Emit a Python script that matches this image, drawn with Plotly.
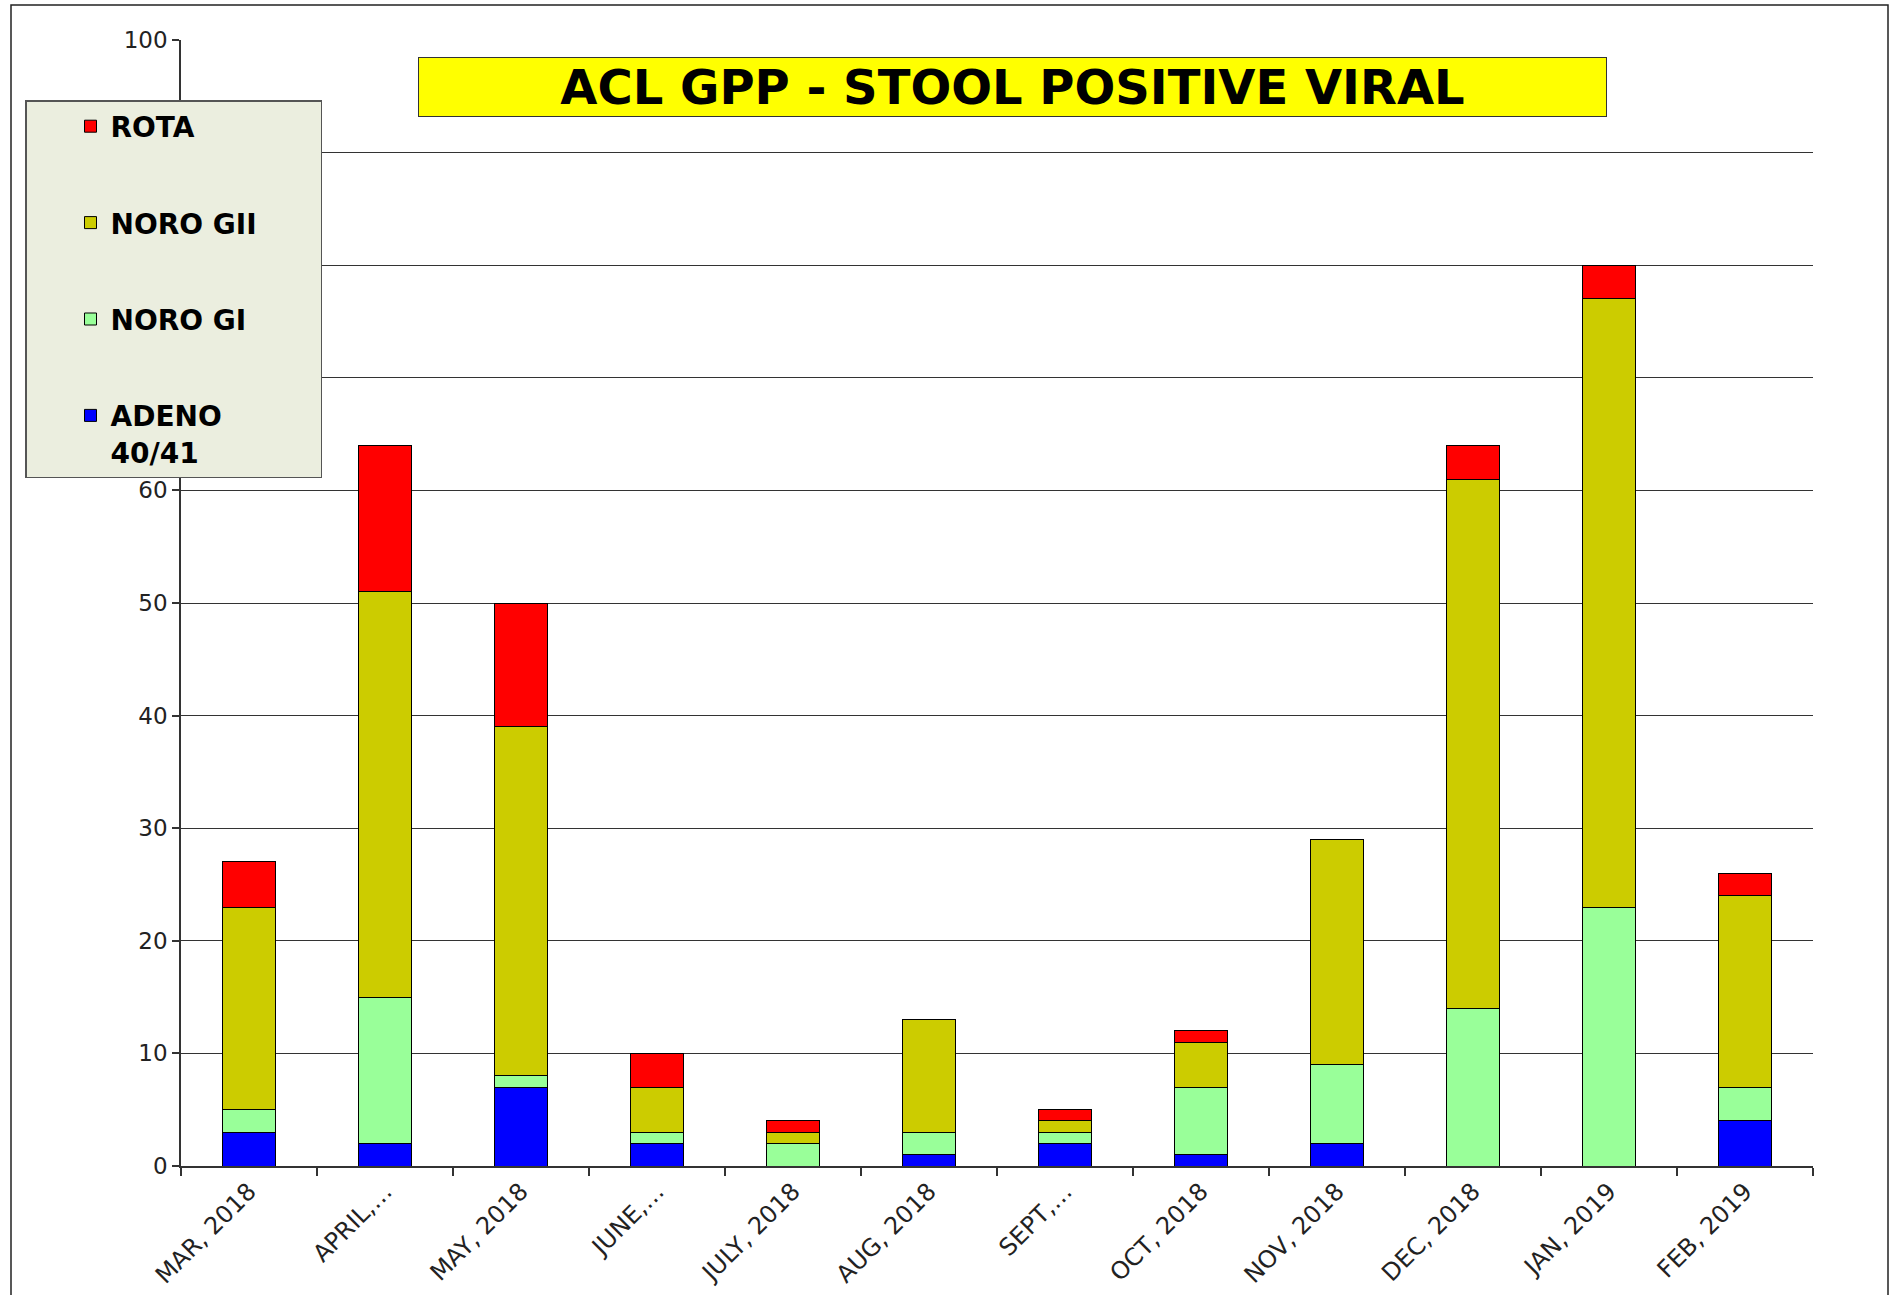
import plotly.graph_objects as go

months = ["MAR, 2018", "APRIL,…", "MAY, 2018", "JUNE,…", "JULY, 2018", "AUG, 2018",
          "SEPT,…", "OCT, 2018", "NOV, 2018", "DEC, 2018", "JAN, 2019", "FEB, 2019"]
adeno = [3, 2, 7, 2, 0, 1, 2, 1, 2, 0, 0, 4]
noro_gi = [2, 13, 1, 1, 2, 2, 1, 6, 7, 14, 23, 3]
noro_gii = [18, 36, 31, 4, 1, 10, 1, 4, 20, 47, 54, 17]
rota = [4, 13, 11, 3, 1, 0, 1, 1, 0, 3, 3, 2]

series_names = ["ADENO<br>40/41", "NORO GI", "NORO GII", "ROTA"]
series_values = [adeno, noro_gi, noro_gii, rota]
series_colors = ["#0000FF", "#99FF99", "#CCCC00", "#FF0000"]
legend_ranks = [4, 3, 2, 1]
y_ticks = [0, 10, 20, 30, 40, 50, 60, 70, 80, 90, 100]
# labels 70-90 sit behind the legend box in the reference
y_tick_text = ["0", "10", "20", "30", "40", "50", "60", "", "", "", "100"]

W, H = 1893, 1295
L, R, T, B = 181, 80, 40, 129
pw, ph = W - L - R, H - T - B

FONT = "DejaVu Sans, Arial, sans-serif"
NB = "\u00a0"

fig = go.Figure()
for name, vals, col, rk in zip(series_names, series_values, series_colors, legend_ranks):
    label = name + NB * 6 if "<br>" not in name else name.replace("<br>", NB * 6 + "<br>")
    fig.add_trace(go.Bar(
        x=months, y=vals, name=label, legendgroup=name, legendrank=rk,
        marker=dict(color=col, line=dict(color="#000000", width=1)),
        width=0.39,
    ))

fig.update_layout(
    width=W, height=H,
    margin=dict(l=L, r=R, t=T, b=B, pad=0, autoexpand=False),
    barmode="stack",
    plot_bgcolor="white", paper_bgcolor="white",
    font=dict(family=FONT, color="#222222", size=22),
    showlegend=True,
    legend=dict(
        xref="paper", yref="paper",
        x=(25 - L) / pw, y=(H - B - 100) / ph, xanchor="left", yanchor="top",
        bgcolor="#EBEEDF", bordercolor="#555555", borderwidth=1.5,
        font=dict(family=FONT, size=28, color="#000000", weight="bold"),
        traceorder="grouped", tracegroupgap=57,
        valign="top", indentation=44,
    ),
    xaxis=dict(
        showline=True, linecolor="#333333", linewidth=1.5,
        ticks="outside", ticklen=8, tickcolor="#333333", tickwidth=1.5,
        tickson="boundaries", tickangle=-45,
        tickfont=dict(family=FONT, size=24, color="#222222"),
        showgrid=False,
    ),
    yaxis=dict(
        range=[0, 100], tickvals=y_ticks, ticktext=y_tick_text, showgrid=True,
        gridcolor="#333333", gridwidth=1.3,
        showline=True, linecolor="#333333", linewidth=1.5,
        ticks="outside", ticklen=7, tickcolor="#333333", tickwidth=1.5,
        tickfont=dict(family=FONT, size=23, color="#222222"),
        zeroline=False,
    ),
)

# title box
fig.add_annotation(
    xref="paper", yref="paper",
    x=(1012.5 - L) / pw, y=(H - B - 87) / ph,
    xanchor="center", yanchor="middle",
    text="ACL GPP - STOOL POSITIVE VIRAL",
    showarrow=False,
    font=dict(family=FONT, size=48, color="#000000", weight="bold"),
    bgcolor="#FFFF00", bordercolor="#333333", borderwidth=1,
    width=1187, height=58, borderpad=0,
)

# outer chart frame
fig.add_shape(
    type="rect", xref="paper", yref="paper",
    x0=(11 - L) / pw, x1=(1888 - L) / pw,
    y0=(H - B - 1320) / ph, y1=(H - B - 5) / ph,
    line=dict(color="#222222", width=1.5), fillcolor="rgba(0,0,0,0)", layer="below",
)

fig.write_html("out.html", config={"displayModeBar": False},
               post_script="document.body.style.margin='0';")
